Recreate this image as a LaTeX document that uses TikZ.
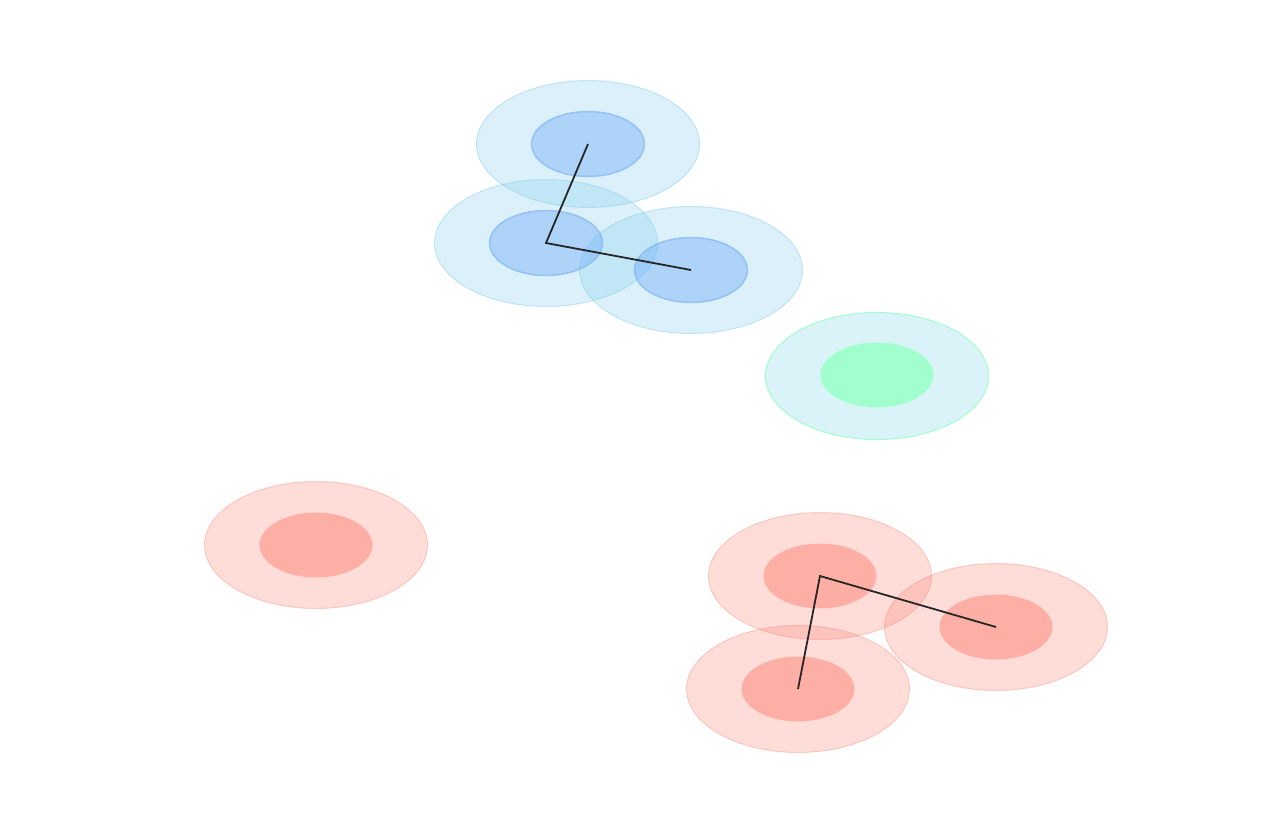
\documentclass[tikz,border=0pt]{standalone}
\usetikzlibrary{shapes.geometric}
\definecolor{bouter}{RGB}{135,206,235}
\definecolor{binner}{RGB}{100,165,250}
\definecolor{bedge}{RGB}{120,175,240}
\definecolor{gouter}{RGB}{218,243,248}
\definecolor{ginner}{RGB}{160,255,204}
\definecolor{router}{RGB}{250,128,114}
\definecolor{rinner}{RGB}{255,108,86}
\tikzset{
  outerring/.style={ellipse, inner sep=0pt, minimum width=223pt, minimum height=127pt, line width=1pt},
  innercore/.style={ellipse, inner sep=0pt, minimum width=113pt, minimum height=65pt, line width=1.5pt},
  bout/.style={outerring, fill=bouter, fill opacity=0.3, draw=bouter, draw opacity=0.45},
  bin/.style={innercore, fill=binner, fill opacity=0.38, draw=bedge, draw opacity=0.6},
  gout/.style={outerring, fill=gouter, draw=ginner},
  gin/.style={innercore, fill=ginner},
  rout/.style={outerring, fill=router, fill opacity=0.27, draw=router, draw opacity=0.35},
  rin/.style={innercore, fill=rinner, fill opacity=0.4},
  bond/.style={line width=1.8pt, black!85}
}
\begin{document}
\begin{tikzpicture}[x=1pt,y=-1pt]
\useasboundingbox (0,0) rectangle (1280,828);
% blue molecule
\node[bout] (aO) at (588,144) {};
\node[bout] (bO) at (546,243) {};
\node[bout] (cO) at (691,270) {};
\node[bin] (a) at (588,144) {};
\node[bin] (b) at (546,243) {};
\node[bin] (c) at (691,270) {};
% green atom
\node[gout] (gO) at (877,376) {};
\node[gin] (g) at (877,375) {};
% single red atom
\node[rout] (sO) at (316,545) {};
\node[rin] (s) at (316,545) {};
% red molecule
\node[rout] (dO) at (820,576) {};
\node[rout] (eO) at (996,627) {};
\node[rout] (fO) at (798,689) {};
\node[rin] (d) at (820,576) {};
\node[rin] (e) at (996,627) {};
\node[rin] (f) at (798,689) {};
% bonds
\draw[bond] (a.center) -- (b.center) -- (c.center);
\draw[bond] (e.center) -- (d.center) -- (f.center);
\end{tikzpicture}
\end{document}
